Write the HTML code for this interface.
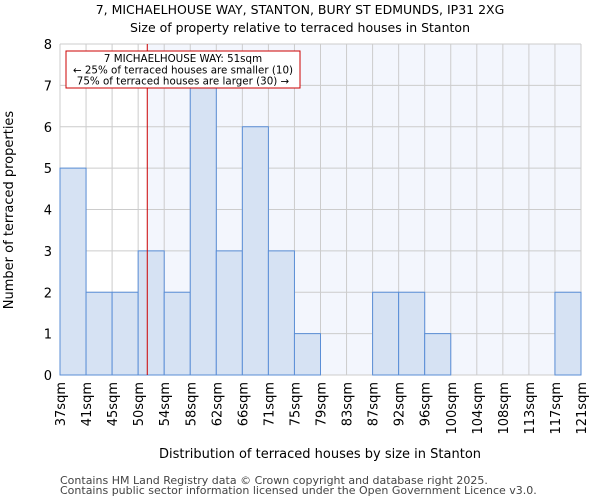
<!DOCTYPE html>
<html><head><meta charset="utf-8"><style>
body{margin:0;background:#fff;}
svg{display:block;font-family:"DejaVu Sans","Liberation Sans",sans-serif;}
</style></head><body>
<svg id="chart" width="600" height="500" viewBox="0 0 600 500" xmlns="http://www.w3.org/2000/svg">
<text x="300" y="14" text-anchor="middle" font-size="12.5">7, MICHAELHOUSE WAY, STANTON, BURY ST EDMUNDS, IP31 2XG</text>
<text x="300" y="32" text-anchor="middle" font-size="12.5">Size of property relative to terraced houses in Stanton</text>
<g id="plot"></g>
<text x="320" y="458" text-anchor="middle" font-size="13">Distribution of terraced houses by size in Stanton</text>
<text transform="translate(13,210) rotate(-90)" text-anchor="middle" font-size="13">Number of terraced properties</text>
<text x="60" y="484" font-size="11" fill="#444">Contains HM Land Registry data © Crown copyright and database right 2025.</text>
<text x="60" y="494" font-size="11" fill="#444">Contains public sector information licensed under the Open Government Licence v3.0.</text>
</svg>
<script>
const binLabels = ["37sqm","41sqm","45sqm","50sqm","54sqm","58sqm","62sqm","66sqm","71sqm","75sqm","79sqm","83sqm","87sqm","92sqm","96sqm","100sqm","104sqm","108sqm","113sqm","117sqm","121sqm"];
const counts = [5,2,2,3,2,7,3,6,3,1,0,0,2,2,1,0,0,0,0,2];
const yTicks = [0,1,2,3,4,5,6,7,8];
const markerBin = 3.35;
const annotationLines = ["7 MICHAELHOUSE WAY: 51sqm","\u2190 25% of terraced houses are smaller (10)","75% of terraced houses are larger (30) \u2192"];

const NS="http://www.w3.org/2000/svg";
const L=60,R=581,T=44,B=375,yMax=8;
const nb=binLabels.length-1;
const x=i=>L+(R-L)*i/nb;
const y=v=>B-(B-T)*v/yMax;
const g=document.getElementById('plot');
function mk(tag,at,parent){const e=document.createElementNS(NS,tag);for(const k in at)e.setAttribute(k,at[k]);(parent||g).appendChild(e);return e;}

const mx=x(markerBin);
let e=mk('rect',{x:mx,y:T,width:R-mx,height:B-T,fill:'#f3f6fd'});


yTicks.forEach(v=>{let l=mk('line',{x1:L,x2:R,y1:y(v),y2:y(v),stroke:'#ccc','stroke-width':1});

});
binLabels.forEach((b,i)=>{let l=mk('line',{x1:x(i),x2:x(i),y1:T,y2:B,stroke:'#ccc','stroke-width':1});

});
counts.forEach((c,i)=>{if(c<=0)return;
let r=mk('rect',{x:x(i),y:y(c),width:x(i+1)-x(i),height:B-y(c),fill:'#d6e2f3',stroke:'#5a8ed6','stroke-width':1});

});
e=mk('line',{x1:mx,x2:mx,y1:T,y2:B,stroke:'#cc0000','stroke-width':1});


yTicks.forEach(v=>{let t=mk('text',{x:L-8,y:y(v)+5,'text-anchor':'end','font-size':13});t.textContent=v;

});
binLabels.forEach((b,i)=>{let t=mk('text',{transform:`translate(${x(i)+5},382) rotate(-90)`,'text-anchor':'end','font-size':13});t.textContent=b;

});
e=mk('rect',{x:66,y:51,width:234,height:37,fill:'#fff',stroke:'#cc0000','stroke-width':1});


annotationLines.forEach((s,i)=>{let t=mk('text',{x:183,y:62+i*11.3,'text-anchor':'middle','font-size':10.3});t.textContent=s;

});
</script>
</body></html>
